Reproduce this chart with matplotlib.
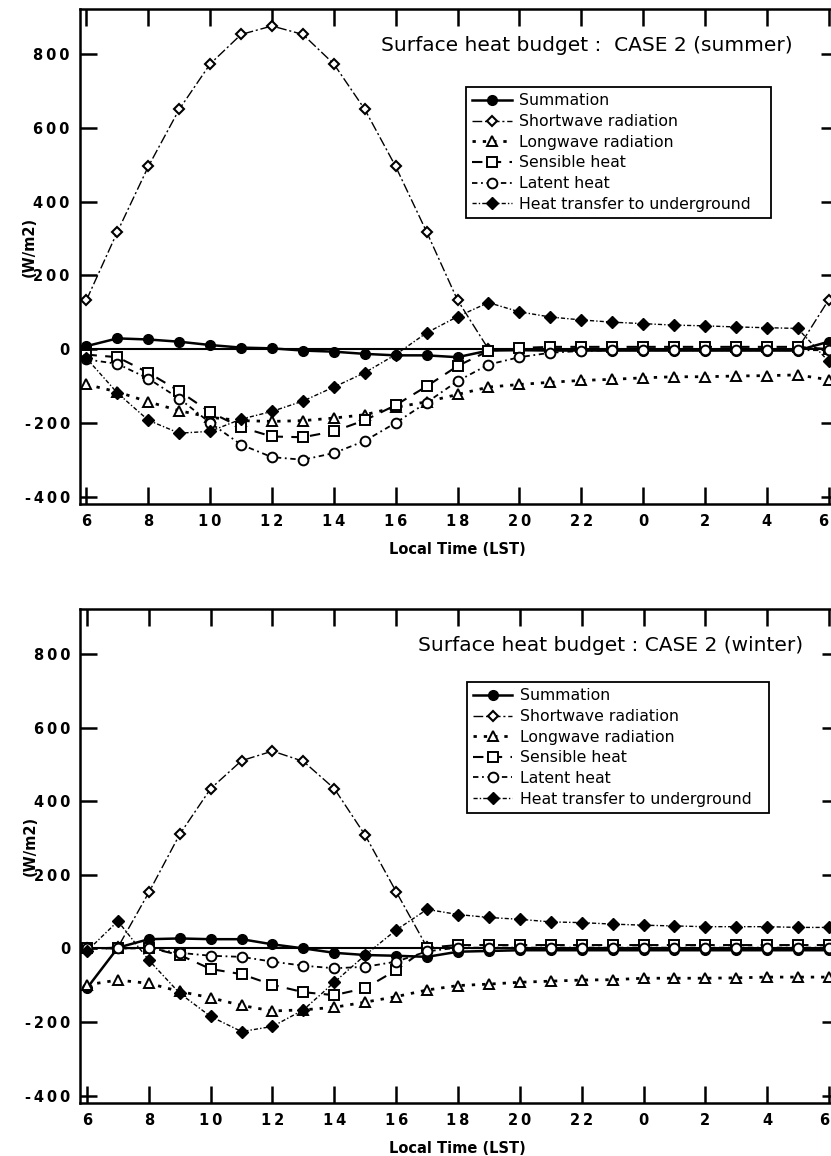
import numpy as np
import matplotlib
matplotlib.use('Agg')
import matplotlib.pyplot as plt

hours = np.arange(6, 31)
tick_pos = np.arange(6, 31, 2)
tick_txt = ['6', '8', '10', '12', '14', '16', '18', '20', '22', '0', '2', '4', '6']
ytick_pos = [-400, -200, 0, 200, 400, 600, 800]

labels = ['Summation', 'Shortwave radiation', 'Longwave radiation',
          'Sensible heat', 'Latent heat', 'Heat transfer to underground']

# summer (W/m2), hourly 6 LST .. 6 LST next day
sum_summer = [8, 29, 26, 20, 11, 4, 2, -4, -7, -13, -17, -17, -22, -4, -3,
              -4, -4, -4, -4, -4, -4, -4, -4, -4, 20]
sw_summer = [133, 318, 495, 650, 773, 853, 876, 853, 773, 650, 495, 318, 133,
             0, 0, 0, 0, 0, 0, 0, 0, 0, 0, 0, 133]
lw_summer = [-96, -116, -143, -167, -185, -194, -196, -194, -187, -178, -158, -143,
             -123, -103, -96, -90, -85, -82, -78, -75, -75, -73, -72, -70, -83]
sens_summer = [-15, -22, -64, -114, -171, -212, -237, -239, -223, -193, -152, -101,
               -46, -5, 3, 6, 6, 6, 6, 6, 6, 6, 6, 6, 0]
lat_summer = [-28, -40, -80, -134, -200, -259, -293, -300, -282, -249, -200, -145,
              -87, -42, -22, -10, -5, -3, -3, -3, -3, -3, -3, -3, -3]
ground_summer = [-25, -119, -193, -228, -223, -190, -169, -141, -103, -64, -15, 44,
                 88, 126, 101, 87, 79, 73, 69, 65, 63, 60, 58, 56, -33]

# winter
sum_winter = [-108, 2, 25, 27, 25, 25, 11, 0, -12, -18, -20, -23, -9, -7, -5,
              -5, -5, -5, -5, -5, -5, -5, -5, -5, -5]
sw_winter = [0, 3, 152, 310, 434, 510, 536, 508, 434, 307, 154, 3, 0,
             0, 0, 0, 0, 0, 0, 0, 0, 0, 0, 0, 0]
lw_winter = [-99, -86, -95, -117, -134, -155, -170, -167, -160, -146, -131, -113,
             -101, -97, -92, -89, -86, -85, -81, -81, -81, -80, -78, -78, -78]
sens_winter = [0, 0, 2, -18, -56, -70, -99, -119, -127, -108, -59, 2,
               9, 9, 9, 9, 9, 9, 9, 9, 9, 9, 9, 9, 9]
lat_winter = [0, 0, 0, -12, -20, -23, -36, -47, -54, -50, -36, -8,
              2, 2, 2, 2, 2, 2, 2, 2, 2, 2, 2, 2, 2]
ground_winter = [-7, 74, -32, -122, -185, -226, -212, -167, -92, -18, 50, 106,
                 92, 84, 79, 72, 70, 66, 63, 61, 59, 59, 59, 57, 57]

def spaced(s):
    return '\u2009'.join(s)

styles = [
    dict(ls='-', lw=1.8, marker='o', ms=7, mfc='k'),
    dict(ls=(0, (7, 2, 1.5, 2)), lw=1.0, marker='D', ms=5, mfc='w', mew=1.5),
    dict(ls=(0, (1.2, 2.5)), lw=2.0, marker='^', ms=7, mfc='w', mew=1.4),
    dict(ls=(0, (5, 4)), lw=1.5, marker='s', ms=7, mfc='w', mew=1.4),
    dict(ls=(0, (3, 2, 1, 2)), lw=1.3, marker='o', ms=7, mfc='w', mew=1.4),
    dict(ls=(0, (3, 1.5, 1, 1.5)), lw=1.0, marker='D', ms=6, mfc='k'),
]

fig = plt.figure(figsize=(8.31, 11.56), dpi=100)

def panel(rect, series, title, title_xy, leg_box):
    ax = fig.add_axes(rect)
    ax.axhline(0, color='k', lw=1.5, zorder=1)
    for vals, lab, st in zip(series, labels, styles):
        ax.plot(hours, vals, color='k', mec='k', label=lab, zorder=3, **st)
    ax.set_xlim(5.774, 30.31)
    ax.set_ylim(-420, 922)
    ax.set_xticks(tick_pos)
    ax.set_xticklabels([spaced(t) for t in tick_txt])
    ax.set_yticks(ytick_pos)
    ax.set_yticklabels([spaced(str(v)) for v in ytick_pos])
    ax.tick_params(direction='in', length=12, width=1.8, top=True, right=True,
                   labelsize=10.5, pad=7)
    for t in ax.get_xticklabels() + ax.get_yticklabels():
        t.set_fontweight('bold')
    ax.get_xticklabels()[-1].set_horizontalalignment('right')
    for sp in ax.spines.values():
        sp.set_linewidth(1.8)
    ax.set_xlabel('Local Time (LST)', fontsize=10.5, fontweight='bold')
    ax.xaxis.set_label_coords(0.4977, -0.077)
    ax.set_ylabel('(W/m2)', fontsize=10.5, fontweight='bold')
    ax.yaxis.set_label_coords(-0.056, 0.52)
    ax.text(title_xy[0], title_xy[1], title, transform=ax.transAxes,
            ha='right', va='center', fontsize=14.5)
    leg = ax.legend(loc='upper left', bbox_to_anchor=leg_box, mode='expand',
                    fontsize=11.3, frameon=True, fancybox=False, framealpha=1,
                    edgecolor='k', handlelength=2.5, handletextpad=0.5,
                    labelspacing=0.36, borderpad=0.4, borderaxespad=0)
    leg.get_frame().set_linewidth(1.3)
    return ax

panel([79.5 / 831, 652 / 1156, 758.6 / 831, 495 / 1156],
      [sum_summer, sw_summer, lw_summer, sens_summer, lat_summer, ground_summer],
      'Surface heat budget :  CASE 2 (summer)', (0.9406, 0.927),
      (0.5095, 0.58, 0.402, 0.262))
panel([80 / 831, 53 / 1156, 758.6 / 831, 494 / 1156],
      [sum_winter, sw_winter, lw_winter, sens_winter, lat_winter, ground_winter],
      'Surface heat budget : CASE 2 (winter)', (0.953, 0.927),
      (0.510, 0.59, 0.398, 0.262))

fig.savefig('out.png', dpi=100)
